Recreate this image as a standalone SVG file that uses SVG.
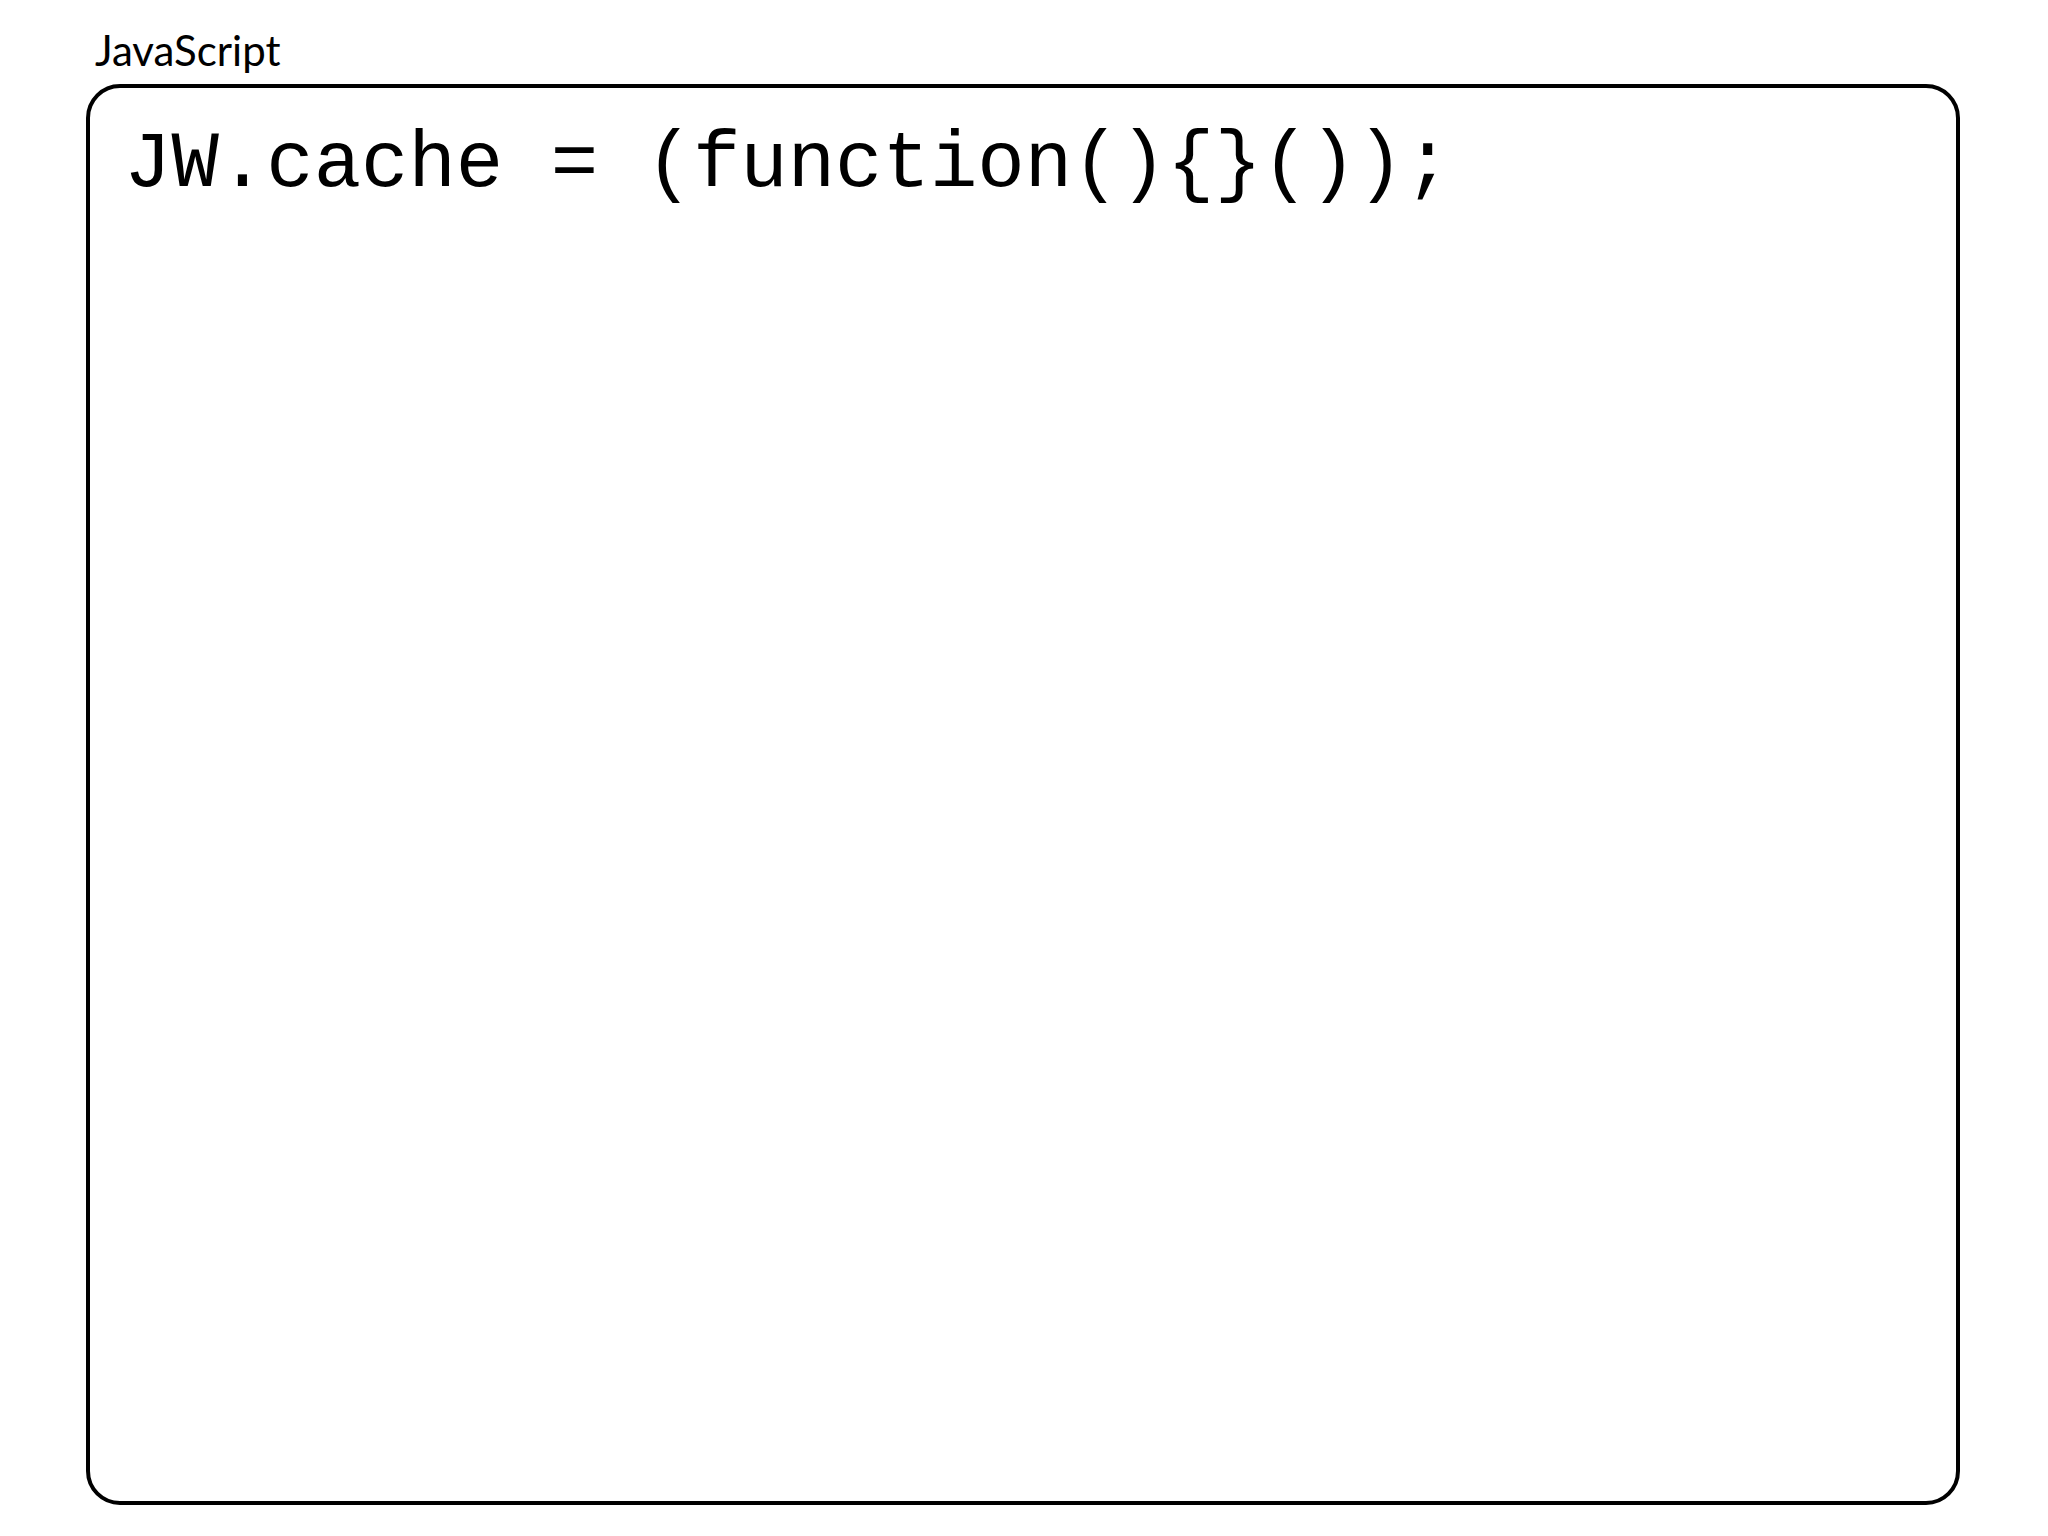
<svg xmlns="http://www.w3.org/2000/svg" width="2048" height="1536" viewBox="0 0 2048 1536">
<style>
.title{font-family:"Lato","Liberation Sans",sans-serif;font-size:42px;fill:#000}
.code{font-family:"Liberation Mono",monospace;font-size:79px;fill:#000}
.box{fill:#fff;stroke:#000;stroke-width:4}
</style>
<rect width="2048" height="1536" fill="#fff"/>
<text class="title" x="95" y="66">JavaScript</text>
<g id="code-box">
<rect class="box" x="88" y="86" width="1870" height="1417" rx="32"/>
<text class="code" x="124" y="186" xml:space="preserve">JW.cache = (function(){}());</text>
</g>
<g id="connectors"/>
</svg>
